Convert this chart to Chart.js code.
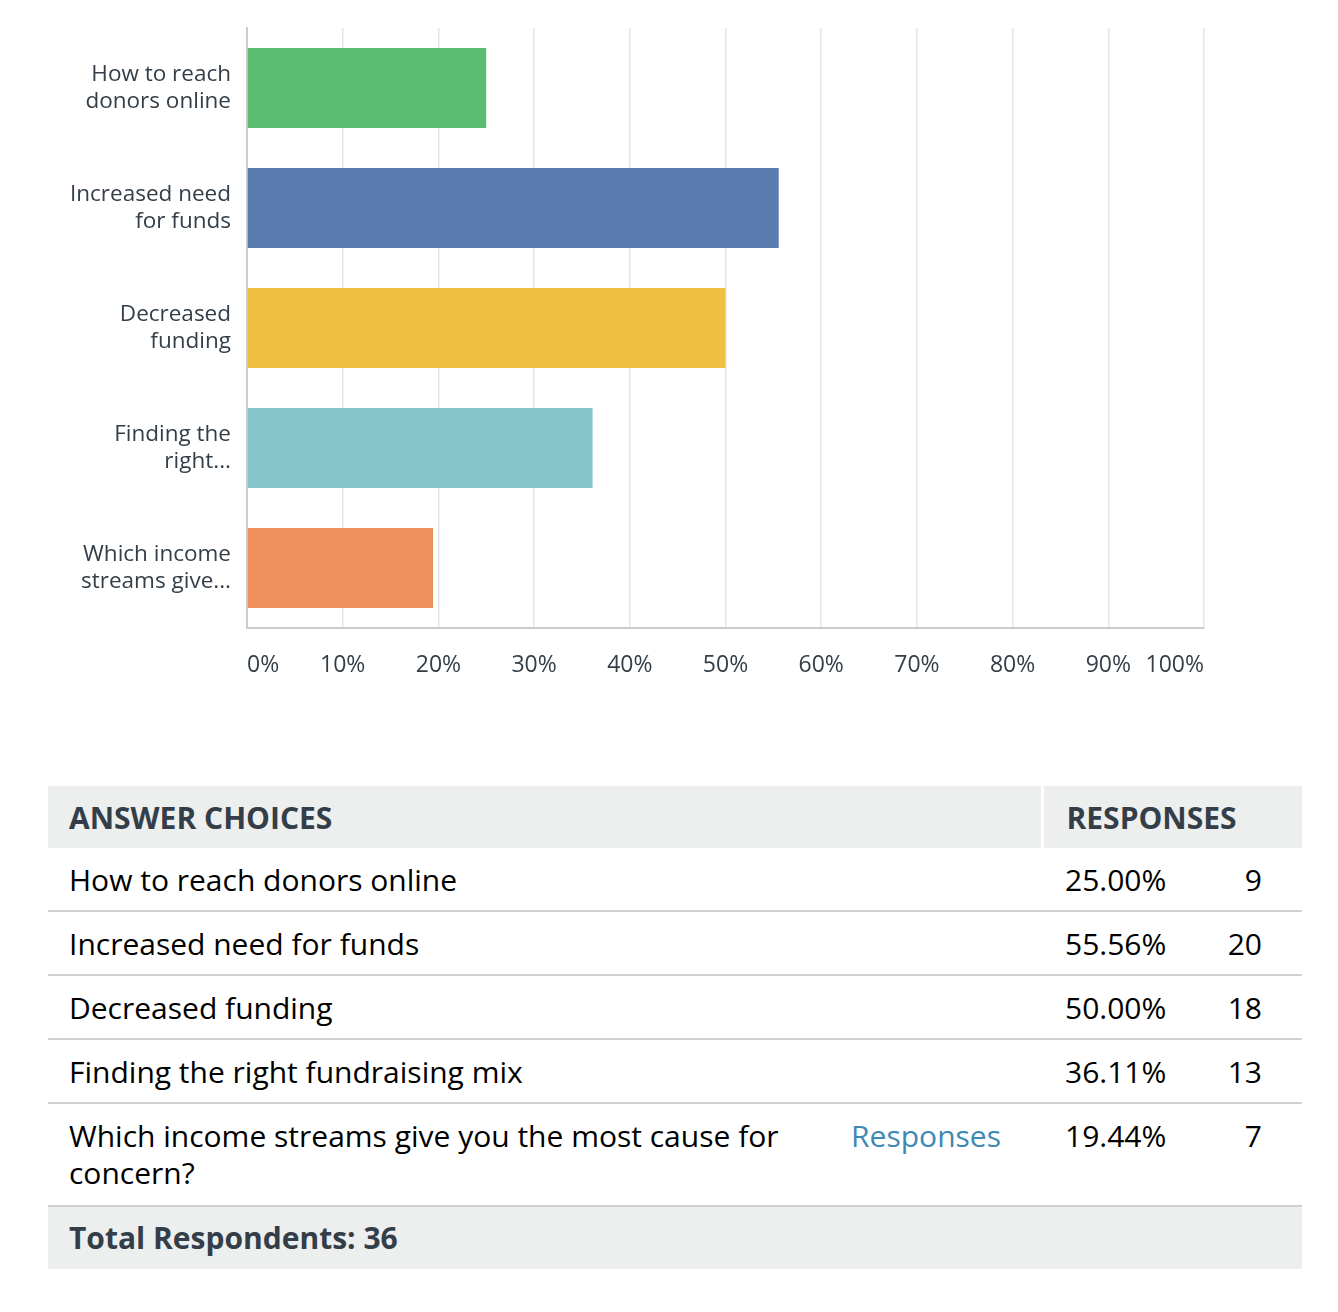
<!DOCTYPE html>
<html>
<head>
<meta charset="utf-8">
<script src="https://cdn.jsdelivr.net/npm/chart.js@4"></script>
<style>
  html, body { margin: 0; padding: 0; background: #fff; }
  body { width: 1338px; height: 1312px; position: relative; font-family: "Open Sans", sans-serif; }
  #chartBox { position: absolute; left: 0; top: 0; width: 1338px; height: 700px; }
  table { position: absolute; left: 48px; top: 786px; width: 1254px; border-collapse: collapse; table-layout: fixed; font-size: 30px; color: #000; }
  th { background: #edeeee; color: #333e48; font-weight: 700; text-align: left; height: 62px; padding: 0 0 0 21px; box-sizing: border-box; font-size: 30px; }
  th.resp { padding-left: 23px; border-left: 3px solid #fff; }
  td { border-bottom: 2px solid #d0d0d0; box-sizing: border-box; vertical-align: top; padding-top: 13px; padding-bottom: 12px; line-height: 37px; }
  tr.last td { padding-bottom: 14px; }
  td.choice { padding-left: 21px; padding-right: 0; position: relative; }
  td.choice .txt { max-width: 800px; }
  td.choice .link { position: absolute; right: 41px; top: 13px; color: #3e88b4; }
  td.pct { padding-left: 23px; }
  td.cnt { text-align: right; padding-right: 40px; }
  tr.total td { background: #edeeee; border-bottom: none; color: #333e48; font-weight: 700; font-size: 30px; padding-top: 12px; padding-bottom: 13px; }
</style>
</head>
<body>
<div id="chartBox"><canvas id="c"></canvas></div>
<table id="tbl">
  <colgroup>
    <col style="width:994px"><col style="width:160px"><col style="width:100px">
  </colgroup>
  <thead>
    <tr><th>ANSWER CHOICES</th><th colspan="2" class="resp">RESPONSES</th></tr>
  </thead>
  <tbody id="tb"></tbody>
</table>
<script>
const categories = [
  ["How to reach", "donors online"],
  ["Increased need", "for funds"],
  ["Decreased", "funding"],
  ["Finding the", "right..."],
  ["Which income", "streams give..."]
];
const fullChoices = [
  "How to reach donors online",
  "Increased need for funds",
  "Decreased funding",
  "Finding the right fundraising mix",
  "Which income streams give you the most cause for concern?"
];
const percentValues = [25.00, 55.56, 50.00, 36.11, 19.44];
const responseCounts = [9, 20, 18, 13, 7];
const totalRespondents = 36;
const barColors = ["#5bbd72", "#5a7caf", "#efbf40", "#86c5cb", "#ee905b"];

// Table
const tb = document.getElementById('tb');
fullChoices.forEach((txt, i) => {
  const tr = document.createElement('tr');
  const isLast = i === fullChoices.length - 1;
  if (isLast) tr.className = 'last';
  const link = isLast ? '<span class="link">Responses</span>' : '';
  tr.innerHTML = `<td class="choice"><div class="txt">${txt}</div>${link}</td><td class="pct">${percentValues[i].toFixed(2)}%</td><td class="cnt">${responseCounts[i]}</td>`;
  tb.appendChild(tr);
});
const trT = document.createElement('tr');
trT.className = 'total';
trT.innerHTML = `<td colspan="3" class="choice">Total Respondents: ${totalRespondents}</td>`;
tb.appendChild(trT);

// Chart
new Chart(document.getElementById('c'), {
  type: 'bar',
  data: {
    labels: categories,
    datasets: [{
      data: percentValues,
      backgroundColor: barColors,
      borderWidth: 0,
      categoryPercentage: 1.0,
      barPercentage: 0.667
    }]
  },
  options: {
    indexAxis: 'y',
    responsive: true,
    maintainAspectRatio: false,
    animation: false,
    devicePixelRatio: 1,
    layout: { padding: { top: 28, right: 134, left: 0, bottom: 0 } },
    plugins: { legend: { display: false }, tooltip: { enabled: false } },
    scales: {
      x: {
        min: 0, max: 100,
        ticks: {
          stepSize: 10,
          align: 'inner',
          padding: 24,
          color: '#333e48',
          font: { family: 'Open Sans', size: 23 },
          callback: v => v + '%'
        },
        grid: { color: '#e6e6e6', lineWidth: 1.5, drawTicks: false },
        border: { color: '#cccccc', width: 2 },
        afterFit: s => { s.height = 72; }
      },
      y: {
        ticks: {
          padding: 16,
          color: '#333e48',
          font: { family: 'Open Sans', size: 22.5, lineHeight: 1.22 }
        },
        grid: { display: false, drawTicks: false },
        border: { color: '#cccccc', width: 2 },
        afterFit: s => { s.width = 247; s.paddingTop = 0; s.paddingBottom = 0; }
      }
    }
  }
});
</script>
</body>
</html>
